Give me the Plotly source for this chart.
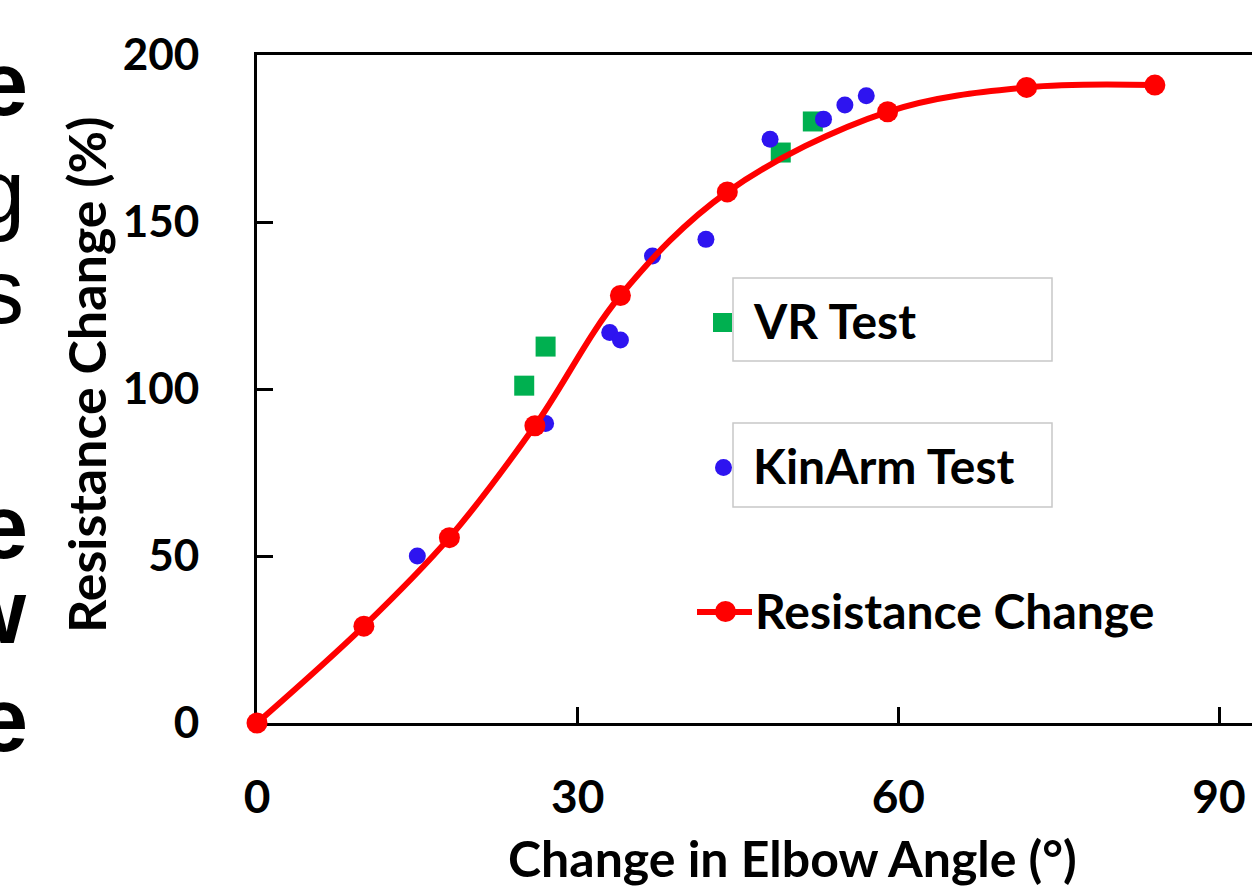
import plotly.graph_objects as go

# ---------------- data ----------------
angle_rc = [0, 10, 18, 26, 34, 44, 59, 72, 84]
resist_rc = [0, 29, 55.5, 89, 128, 159, 183, 190.3, 191]

angle_vr = [25, 27, 49, 52]
resist_vr = [101, 112.7, 170.8, 180.1]

angle_kin = [15, 27, 33, 34, 37, 42, 48, 53, 55, 57]
resist_kin = [50, 89.7, 116.9, 114.7, 139.8, 144.8, 174.8, 180.8, 185, 187.8]

x_ticks = [0, 30, 60, 90]
y_ticks = [0, 50, 100, 150, 200]

legend_names = ["VR Test", "KinArm Test", "Resistance Change"]
x_title = "Change in Elbow Angle (°)"
y_title = "Resistance Change (%)"
side_letters = [("e", True), ("g", False), ("s", False), ("e", True), ("w", True), ("e", True)]

# ---------------- layout helpers ----------------
W, H = 1252, 893
L, T, B, R = 257, 55, 170, 0
PW = W - L - R
PH = H - T - B
X_MAX = PW / ((1219 - 257) / 90.0)


def px(x):
    return (x - L) / PW


def py(y):
    return (H - B - y) / PH


GREEN = "#00B050"
BLUE = "#2E14F0"
RED = "#FF0000"
FONT = "Lato"

fig = go.Figure()
fig.add_trace(go.Scatter(
    x=angle_vr, y=resist_vr, mode="markers", name=legend_names[0],
    marker=dict(symbol="square", size=20, color=GREEN), cliponaxis=False))
fig.add_trace(go.Scatter(
    x=angle_kin, y=resist_kin, mode="markers", name=legend_names[1],
    marker=dict(symbol="circle", size=17, color=BLUE), cliponaxis=False))
fig.add_trace(go.Scatter(
    x=angle_rc, y=resist_rc, mode="lines+markers", name=legend_names[2],
    line=dict(color=RED, width=6, shape="spline", smoothing=1.0),
    marker=dict(symbol="circle", size=21, color=RED), cliponaxis=False))

ytickfont = dict(family=FONT, size=44, color="black", weight="bold")
xtickfont = dict(family=FONT, size=46, color="black", weight="bold")

fig.update_layout(
    width=W, height=H,
    margin=dict(l=L, r=R, t=T, b=B, pad=0),
    paper_bgcolor="white", plot_bgcolor="white",
    showlegend=False,
    xaxis=dict(range=[0, X_MAX], tickvals=x_ticks, showgrid=False, zeroline=False,
               showline=True, linewidth=3, linecolor="black", mirror=True,
               ticks="inside", ticklen=16, tickwidth=3, tickcolor="black",
               tickfont=xtickfont, ticklabelstandoff=32, layer="below traces"),
    yaxis=dict(range=[0, 200], tickvals=y_ticks, showgrid=False, zeroline=False,
               showline=True, linewidth=3, linecolor="black", mirror=False,
               ticks="inside", ticklen=16, tickwidth=3, tickcolor="black",
               tickfont=ytickfont, ticklabelstandoff=46, layer="below traces"),
)

shapes = []
annotations = []

# legend boxes
for (y0, y1) in [(278, 361), (423, 507)]:
    shapes.append(dict(type="rect", xref="paper", yref="paper",
                       x0=px(733), x1=px(1052), y0=py(y1), y1=py(y0),
                       line=dict(color="#C8C8C8", width=1.5), fillcolor="white", layer="above"))
# legend symbols
shapes.append(dict(type="rect", xref="paper", yref="paper",
                   x0=px(713), x1=px(732), y0=py(332), y1=py(313),
                   line=dict(width=0), fillcolor=GREEN, layer="above"))
shapes.append(dict(type="circle", xref="paper", yref="paper",
                   x0=px(715), x1=px(732), y0=py(476), y1=py(459),
                   line=dict(width=0), fillcolor=BLUE, layer="above"))
shapes.append(dict(type="line", xref="paper", yref="paper",
                   x0=px(697), x1=px(752), y0=py(612), y1=py(612),
                   line=dict(width=6, color=RED), layer="above"))
shapes.append(dict(type="circle", xref="paper", yref="paper",
                   x0=px(715), x1=px(736), y0=py(622), y1=py(601),
                   line=dict(width=0), fillcolor=RED, layer="above"))

legfont = dict(family=FONT, size=48, color="black", weight="bold")
annotations.append(dict(text=legend_names[0], xref="paper", yref="paper", x=px(751), y=py(320),
                        xanchor="left", yanchor="middle", showarrow=False, font=legfont))
annotations.append(dict(text=legend_names[1], xref="paper", yref="paper", x=px(751), y=py(465),
                        xanchor="left", yanchor="middle", showarrow=False, font=legfont))
annotations.append(dict(text=legend_names[2], xref="paper", yref="paper", x=px(753), y=py(610),
                        xanchor="left", yanchor="middle", showarrow=False, font=legfont))

# axis titles
titlefont = dict(family=FONT, size=50, color="black", weight="bold")
annotations.append(dict(text=x_title, xref="paper", yref="paper", x=px(792), y=py(858),
                        xanchor="center", yanchor="middle", showarrow=False, font=titlefont))
annotations.append(dict(text=y_title, xref="paper", yref="paper", x=px(86), y=py(375),
                        xanchor="center", yanchor="middle", showarrow=False, textangle=-90,
                        font=dict(family=FONT, size=52, color="black", weight="bold")))

# cut-off slide text letters on the left edge
letter_y = [84, 192, 292, 527, 612, 720]
letter_x = [30, 27, 26, 30, 29, 30]
for (ch, bold), yy, xx in zip(side_letters, letter_y, letter_x):
    annotations.append(dict(text=ch, xref="paper", yref="paper", x=px(xx), y=py(yy),
                            xanchor="right", yanchor="middle", showarrow=False,
                            font=dict(family="Liberation Sans", size=90, color="black",
                                      weight="bold" if bold else "normal")))

fig.update_layout(shapes=shapes, annotations=annotations)
fig.write_html("out.html")
